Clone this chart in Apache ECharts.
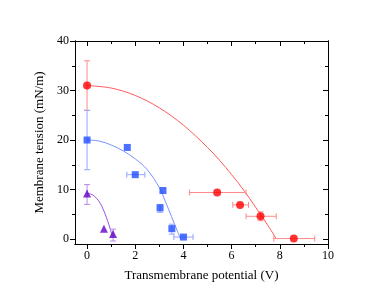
<!DOCTYPE html>
<html><head><meta charset="utf-8">
<script src="https://cdn.jsdelivr.net/npm/echarts@6/dist/echarts.min.js"></script>
<style>html,body{margin:0;padding:0;background:#fff}#c{width:388px;height:300px}</style>
</head><body><div id="c"></div>
<script>
// ---- data ----
var xTicks = [0, 2, 4, 6, 8, 10];
var xMinor = [1, 3, 5, 7, 9];
var yTicks = [0, 10, 20, 30, 40];
var yMinor = [5, 15, 25, 35];

var redX = [0, 5.4, 6.35, 7.2, 8.58];
var redY = [31, 9.4, 6.9, 4.6, 0.1];
var redXLow = [null, 4.25, 6.05, 6.6, 7.75];
var redXHigh = [null, 6.6, 6.7, 7.85, 9.45];
var redYLow = [26, null, null, 3.7, null];
var redYHigh = [36, null, null, 5.5, null];

var blueX = [0, 1.67, 2.0, 3.15, 3.03, 3.52, 4.0];
var blueY = [20, 18.5, 13.0, 9.8, 6.3, 2.1, 0.4];
var blueXLow = [null, null, 1.65, null, null, null, 3.6];
var blueXHigh = [null, null, 2.4, null, null, null, 4.4];
var blueYLow = [14, null, null, null, 5.4, 1.0, null];
var blueYHigh = [26, null, null, null, 7.0, 3.0, null];

var purpleX = [0, 0.7, 1.08];
var purpleY = [9.2, 2.1, 1.0];
var purpleYLow = [7, null, -0.4];
var purpleYHigh = [11, null, 2.0];

var redFitX = [0, 1, 2, 3, 4, 5, 5.5, 6, 6.5, 7, 7.5, 7.86];
var redFitY = [31.0, 30.5, 29.0, 26.5, 23.0, 18.5, 15.9, 13.0, 9.9, 6.4, 2.8, 0];
var blueFitX = [0, 0.5, 1, 1.5, 2, 2.5, 3, 3.25, 3.5, 3.75, 3.88];
var blueFitY = [20, 19.8, 19.0, 17.8, 16.2, 14.0, 10.4, 7.6, 4.6, 1.6, 0];
var purpleFitX = [0, 0.2, 0.4, 0.55, 0.68, 0.8, 0.9, 1.0, 1.05];
var purpleFitY = [9.2, 9.0, 8.2, 7.2, 5.9, 4.4, 3.0, 1.4, 0.5];

function zip(a, b) { return a.map(function (v, i) { return [v, b[i]]; }); }
function errs(xs, ys, lo, hi, dir) {
  var out = [];
  xs.forEach(function (x, i) {
    if (lo[i] != null) out.push([x, ys[i], lo[i], hi[i], dir]);
  });
  return out;
}
function errSeries(data, color) {
  return {
    type: 'custom', xAxisIndex: 0, yAxisIndex: 0, z: 2, silent: true,
    data: data,
    renderItem: function (params, api) {
      var x = api.value(0), y = api.value(1), lo = api.value(2), hi = api.value(3), dir = api.value(4);
      var st = { stroke: color, lineWidth: 1 };
      var cap = 3, a, b;
      if (dir === 1) { // x error
        a = api.coord([lo, y]); b = api.coord([hi, y]);
        return { type: 'group', children: [
          { type: 'line', shape: { x1: a[0], y1: a[1], x2: b[0], y2: b[1] }, style: st },
          { type: 'line', shape: { x1: a[0], y1: a[1] - cap, x2: a[0], y2: a[1] + cap }, style: st },
          { type: 'line', shape: { x1: b[0], y1: b[1] - cap, x2: b[0], y2: b[1] + cap }, style: st }
        ]};
      } else {
        a = api.coord([x, lo]); b = api.coord([x, hi]);
        return { type: 'group', children: [
          { type: 'line', shape: { x1: a[0], y1: a[1], x2: b[0], y2: b[1] }, style: st },
          { type: 'line', shape: { x1: a[0] - cap, y1: a[1], x2: a[0] + cap, y2: a[1] }, style: st },
          { type: 'line', shape: { x1: b[0] - cap, y1: b[1], x2: b[0] + cap, y2: b[1] }, style: st }
        ]};
      }
    }
  };
}

var font = 'Liberation Serif';
var axLine = { show: true, onZero: false, lineStyle: { color: '#000', width: 1 } };
function xAx(pos, inside, ticks, len, labels) {
  return {
    type: 'value', min: -0.5, max: 10, position: pos,
    name: labels ? 'Transmembrane potential (V)' : '', nameLocation: 'middle', nameGap: 25,
    nameTextStyle: { fontFamily: font, fontSize: 13, color: '#000' },
    axisLine: axLine, splitLine: { show: false },
    axisTick: { show: true, inside: inside, length: len, customValues: ticks, lineStyle: { color: '#000' } },
    axisLabel: { show: !!labels, customValues: ticks, fontFamily: font, fontSize: 12, color: '#000', margin: 6 }
  };
}
function yAx(pos, inside, ticks, len, labels) {
  return {
    type: 'value', min: -1, max: 40, position: pos,
    name: labels ? 'Membrane tension (mN/m)' : '', nameLocation: 'middle', nameGap: 23, nameRotate: 90,
    nameTextStyle: { fontFamily: font, fontSize: 13, color: '#000' },
    axisLine: axLine, splitLine: { show: false },
    axisTick: { show: true, inside: inside, length: len, customValues: ticks, lineStyle: { color: '#000' } },
    axisLabel: { show: !!labels, customValues: ticks, fontFamily: font, fontSize: 12, color: '#000', margin: 6 }
  };
}

var redC = '#ff0000', blueC = '#1f4cff', purC = '#6200c8';
function fit(xs, ys, color) {
  return { type: 'line', data: zip(xs, ys), smooth: 0.35, showSymbol: false, z: 1,
    lineStyle: { color: color, width: 1 } };
}
var option = {
  backgroundColor: '#fff',
  animation: false,
  grid: { left: 75, right: 60, top: 41, bottom: 56 },
  xAxis: [
    xAx('bottom', false, xTicks, 5, true),
    xAx('bottom', false, xMinor, 3, false),
    xAx('top', true, xTicks, 5, false),
    xAx('top', true, xMinor, 3, false)
  ],
  yAxis: [
    yAx('left', false, yTicks, 5, true),
    yAx('left', false, yMinor, 3, false),
    yAx('right', true, yTicks, 5, false),
    yAx('right', true, yMinor, 3, false)
  ],
  series: [
    fit(redFitX, redFitY, '#ff5a5a'),
    fit(blueFitX, blueFitY, '#7893ff'),
    fit(purpleFitX, purpleFitY, '#a050e6'),
    errSeries(errs(redX, redY, redXLow, redXHigh, 1).concat(errs(redX, redY, redYLow, redYHigh, 0)), '#ff8a8a'),
    errSeries(errs(blueX, blueY, blueXLow, blueXHigh, 1).concat(errs(blueX, blueY, blueYLow, blueYHigh, 0)), '#93a6ff'),
    errSeries(errs(purpleX, purpleY, purpleYLow, purpleYHigh, 0), '#b98ae8'),
    { type: 'scatter', data: zip(redX, redY), symbol: 'circle', symbolSize: 8, z: 5,
      itemStyle: { color: redC } },
    { type: 'scatter', data: zip(blueX, blueY), symbol: 'rect', symbolSize: 7, z: 5,
      itemStyle: { color: blueC } },
    { type: 'scatter', data: zip(purpleX, purpleY), symbol: 'triangle', symbolSize: 8, z: 5,
      itemStyle: { color: purC } }
  ]
};
echarts.init(document.getElementById('c')).setOption(option);
</script>
</body></html>
